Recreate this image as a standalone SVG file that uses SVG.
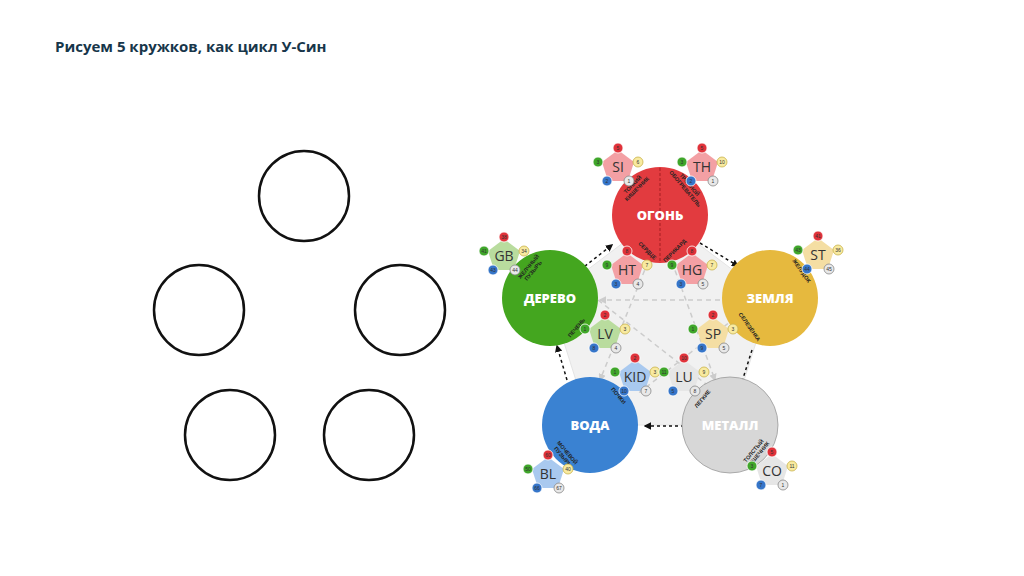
<svg xmlns="http://www.w3.org/2000/svg" width="1024" height="576" viewBox="0 0 1024 576">
<style>
.t{font-family:"Open Sans","Liberation Sans",sans-serif}
.c{fill:none;stroke:#111;stroke-width:2.5}
.big{font-family:"Open Sans","Liberation Sans",sans-serif;font-weight:800;font-size:13px;fill:#fff;text-anchor:middle}
.org{font-family:"Liberation Sans",sans-serif;font-size:5.5px;font-weight:bold;fill:#222;text-anchor:middle}
.lb{font-family:"Open Sans","Liberation Sans",sans-serif;font-size:14px;fill:#333;text-anchor:middle}
.n{font-family:"Liberation Sans",sans-serif;font-size:5px;fill:#333;text-anchor:middle}
.r{fill:#e0323a;stroke:#fff;stroke-width:0.8}
.g{fill:#3fa62a;stroke:#fff;stroke-width:0.8}
.y{fill:#f8eaa0;stroke:#c9b24b;stroke-width:0.8}
.b{fill:#3575c9;stroke:#fff;stroke-width:0.8}
.w{fill:#e8e8e8;stroke:#888;stroke-width:0.8}
.dk{stroke:#111;stroke-width:1.5;stroke-dasharray:3 3;fill:none}
.lg{stroke:#ccc;stroke-width:1.5;stroke-dasharray:5 4;fill:none}
</style>
<defs>
<marker id="a" viewBox="0 0 10 10" refX="8" refY="5" markerWidth="5" markerHeight="5" orient="auto"><path d="M0,0L10,5L0,10z" fill="#111"/></marker>
<marker id="ag" viewBox="0 0 10 10" refX="8" refY="5" markerWidth="5" markerHeight="5" orient="auto"><path d="M0,0L10,5L0,10z" fill="#ccc"/></marker>
<g id="pent"><polygon points="0,-17 16,-5 10,14 -10,14 -16,-5"/></g>
</defs>
<rect width="1024" height="576" fill="#fff"/>
<text x="55" y="52" class="t" font-size="15" font-weight="bold" fill="#17364a">Рисуем 5 кружков, как цикл У-Син</text>
<g id="empty-circles">
<circle class="c" cx="304" cy="196" r="45"/>
<circle class="c" cx="199" cy="310" r="45"/>
<circle class="c" cx="400" cy="310" r="45"/>
<circle class="c" cx="230" cy="435" r="45"/>
<circle class="c" cx="369" cy="435" r="45"/>
</g>
<polygon points="660,215 770,298 730,425 590,425 550,298" fill="#f1f1f1" stroke="#e4e4e4"/>
<g id="connectors">
<path class="dk" d="M700,243 L738,266" marker-end="url(#a)"/>
<path class="dk" d="M752,350 L740,388" marker-end="url(#a)"/>
<path class="dk" d="M690,426 L645,426" marker-end="url(#a)"/>
<path class="dk" d="M567,380 L557,346" marker-end="url(#a)"/>
<path class="dk" d="M580,270 L612,245" marker-end="url(#a)"/>
<path class="lg" d="M648,262 L600,380" marker-end="url(#ag)"/>
<path class="lg" d="M672,262 L715,380" marker-end="url(#ag)"/>
<path class="lg" d="M720,300 L600,300" marker-end="url(#ag)"/>
<path class="lg" d="M598,300 L720,395" marker-end="url(#ag)"/>
<path class="lg" d="M735,318 L640,392" marker-end="url(#ag)"/>
</g>
<g id="fire"><circle cx="660" cy="215" r="48" fill="#e23b3f"/><line x1="660" y1="168" x2="660" y2="262" stroke="#a51f22" stroke-dasharray="3 2"/><text class="big" x="660" y="220">ОГОНЬ</text>
<text class="org" transform="translate(634,186) rotate(-45)">ТОНКИЙ<tspan x="0" dy="6">КИШЕЧНИК</tspan></text>
<text class="org" transform="translate(688,186) rotate(50)">ТРОЙНОЙ<tspan x="0" dy="6">ОБОГРЕВАТЕЛЬ</tspan></text>
<text class="org" transform="translate(646,252) rotate(45)">СЕРДЦЕ</text>
<text class="org" transform="translate(676,252) rotate(-45)">ПЕРИКАРД</text></g>
<g id="wood"><circle cx="550" cy="298" r="48" fill="#44a61f"/><text class="big" x="550" y="303">ДЕРЕВО</text>
<text class="org" transform="translate(530,268) rotate(-50)">ЖЕЛЧНЫЙ<tspan x="0" dy="6">ПУЗЫРЬ</tspan></text>
<text class="org" transform="translate(578,329) rotate(-50)">ПЕЧЕНЬ</text></g>
<g id="earth"><circle cx="770" cy="298" r="48" fill="#e6b93e"/><text class="big" x="770" y="303">ЗЕМЛЯ</text>
<text class="org" transform="translate(800,272) rotate(55)">ЖЕЛУДОК</text>
<text class="org" transform="translate(748,328) rotate(55)">СЕЛЕЗЁНКА</text></g>
<g id="water"><circle cx="590" cy="425" r="48" fill="#3a82d2"/><text class="big" x="590" y="430">ВОДА</text>
<text class="org" transform="translate(617,397) rotate(50)">ПОЧКИ</text>
<text class="org" transform="translate(566,454) rotate(50)">МОЧЕВОЙ<tspan x="0" dy="6">ПУЗЫРЬ</tspan></text></g>
<g id="metal"><circle cx="730" cy="425" r="48" fill="#d7d7d7" stroke="#999" stroke-width="0.8"/><text class="big" x="730" y="430">МЕТАЛЛ</text>
<text class="org" transform="translate(704,400) rotate(-50)">ЛЕГКИЕ</text>
<text class="org" transform="translate(755,452) rotate(-50)">ТОЛСТЫЙ<tspan x="0" dy="6">КИШЕЧНИК</tspan></text></g>
<g id="SI" transform="translate(618,167)"><use href="#pent" fill="#f3a0a4"/><text class="lb" y="5">SI</text><circle class="r" cy="-19" r="5"/><text class="n" y="-17">5</text><circle class="g" cx="-20" cy="-5" r="5"/><text class="n" x="-20" y="-3">3</text><circle class="y" cx="20" cy="-5" r="5"/><text class="n" x="20" y="-3">6</text><circle class="b" cx="-11" cy="14" r="5"/><text class="n" x="-11" y="16">2</text><circle class="w" cx="11" cy="14" r="5"/><text class="n" x="11" y="16">1</text></g>
<g id="TH" transform="translate(702,167)"><use href="#pent" fill="#f3a0a4"/><text class="lb" y="5">TH</text><circle class="r" cy="-19" r="5"/><text class="n" y="-17">5</text><circle class="g" cx="-20" cy="-5" r="5"/><text class="n" x="-20" y="-3">3</text><circle class="y" cx="20" cy="-5" r="5"/><text class="n" x="20" y="-3">10</text><circle class="b" cx="-11" cy="14" r="5"/><text class="n" x="-11" y="16">2</text><circle class="w" cx="11" cy="14" r="5"/><text class="n" x="11" y="16">1</text></g>
<g id="HT" transform="translate(627,270)"><use href="#pent" fill="#f3a0a4"/><text class="lb" y="5">HT</text><circle class="r" cy="-19" r="5"/><text class="n" y="-17">8</text><circle class="g" cx="-20" cy="-5" r="5"/><text class="n" x="-20" y="-3">9</text><circle class="y" cx="20" cy="-5" r="5"/><text class="n" x="20" y="-3">7</text><circle class="b" cx="-11" cy="14" r="5"/><text class="n" x="-11" y="16">3</text><circle class="w" cx="11" cy="14" r="5"/><text class="n" x="11" y="16">4</text></g>
<g id="HG" transform="translate(692,270)"><use href="#pent" fill="#f3a0a4"/><text class="lb" y="5">HG</text><circle class="r" cy="-19" r="5"/><text class="n" y="-17">8</text><circle class="g" cx="-20" cy="-5" r="5"/><text class="n" x="-20" y="-3">9</text><circle class="y" cx="20" cy="-5" r="5"/><text class="n" x="20" y="-3">7</text><circle class="b" cx="-11" cy="14" r="5"/><text class="n" x="-11" y="16">3</text><circle class="w" cx="11" cy="14" r="5"/><text class="n" x="11" y="16">5</text></g>
<g id="GB" transform="translate(504,256)"><use href="#pent" fill="#b9dc9e"/><text class="lb" y="5">GB</text><circle class="r" cy="-19" r="5"/><text class="n" y="-17">38</text><circle class="g" cx="-20" cy="-5" r="5"/><text class="n" x="-20" y="-3">41</text><circle class="y" cx="20" cy="-5" r="5"/><text class="n" x="20" y="-3">34</text><circle class="b" cx="-11" cy="14" r="5"/><text class="n" x="-11" y="16">43</text><circle class="w" cx="11" cy="14" r="5"/><text class="n" x="11" y="16">44</text></g>
<g id="LV" transform="translate(605,334)"><use href="#pent" fill="#b9dc9e"/><text class="lb" y="5">LV</text><circle class="r" cy="-19" r="5"/><text class="n" y="-17">2</text><circle class="g" cx="-20" cy="-5" r="5"/><text class="n" x="-20" y="-3">1</text><circle class="y" cx="20" cy="-5" r="5"/><text class="n" x="20" y="-3">3</text><circle class="b" cx="-11" cy="14" r="5"/><text class="n" x="-11" y="16">8</text><circle class="w" cx="11" cy="14" r="5"/><text class="n" x="11" y="16">4</text></g>
<g id="ST" transform="translate(818,255)"><use href="#pent" fill="#f4dea3"/><text class="lb" y="5">ST</text><circle class="r" cy="-19" r="5"/><text class="n" y="-17">41</text><circle class="g" cx="-20" cy="-5" r="5"/><text class="n" x="-20" y="-3">43</text><circle class="y" cx="20" cy="-5" r="5"/><text class="n" x="20" y="-3">36</text><circle class="b" cx="-11" cy="14" r="5"/><text class="n" x="-11" y="16">44</text><circle class="w" cx="11" cy="14" r="5"/><text class="n" x="11" y="16">45</text></g>
<g id="SP" transform="translate(713,334)"><use href="#pent" fill="#f4dea3"/><text class="lb" y="5">SP</text><circle class="r" cy="-19" r="5"/><text class="n" y="-17">2</text><circle class="g" cx="-20" cy="-5" r="5"/><text class="n" x="-20" y="-3">1</text><circle class="y" cx="20" cy="-5" r="5"/><text class="n" x="20" y="-3">3</text><circle class="b" cx="-11" cy="14" r="5"/><text class="n" x="-11" y="16">9</text><circle class="w" cx="11" cy="14" r="5"/><text class="n" x="11" y="16">5</text></g>
<g id="KID" transform="translate(635,377)"><use href="#pent" fill="#a9c9ef"/><text class="lb" y="5">KID</text><circle class="r" cy="-19" r="5"/><text class="n" y="-17">2</text><circle class="g" cx="-20" cy="-5" r="5"/><text class="n" x="-20" y="-3">1</text><circle class="y" cx="20" cy="-5" r="5"/><text class="n" x="20" y="-3">3</text><circle class="b" cx="-11" cy="14" r="5"/><text class="n" x="-11" y="16">10</text><circle class="w" cx="11" cy="14" r="5"/><text class="n" x="11" y="16">7</text></g>
<g id="LU" transform="translate(684,377)"><use href="#pent" fill="#e6e6e6"/><text class="lb" y="5">LU</text><circle class="r" cy="-19" r="5"/><text class="n" y="-17">10</text><circle class="g" cx="-20" cy="-5" r="5"/><text class="n" x="-20" y="-3">11</text><circle class="y" cx="20" cy="-5" r="5"/><text class="n" x="20" y="-3">9</text><circle class="b" cx="-11" cy="14" r="5"/><text class="n" x="-11" y="16">5</text><circle class="w" cx="11" cy="14" r="5"/><text class="n" x="11" y="16">8</text></g>
<g id="BL" transform="translate(548,474)"><use href="#pent" fill="#a9c9ef"/><text class="lb" y="5">BL</text><circle class="r" cy="-19" r="5"/><text class="n" y="-17">60</text><circle class="g" cx="-20" cy="-5" r="5"/><text class="n" x="-20" y="-3">50</text><circle class="y" cx="20" cy="-5" r="5"/><text class="n" x="20" y="-3">40</text><circle class="b" cx="-11" cy="14" r="5"/><text class="n" x="-11" y="16">66</text><circle class="w" cx="11" cy="14" r="5"/><text class="n" x="11" y="16">67</text></g>
<g id="CO" transform="translate(772,471)"><use href="#pent" fill="#e6e6e6"/><text class="lb" y="5">CO</text><circle class="r" cy="-19" r="5"/><text class="n" y="-17">5</text><circle class="g" cx="-20" cy="-5" r="5"/><text class="n" x="-20" y="-3">3</text><circle class="y" cx="20" cy="-5" r="5"/><text class="n" x="20" y="-3">11</text><circle class="b" cx="-11" cy="14" r="5"/><text class="n" x="-11" y="16">7</text><circle class="w" cx="11" cy="14" r="5"/><text class="n" x="11" y="16">1</text></g>
</svg>
